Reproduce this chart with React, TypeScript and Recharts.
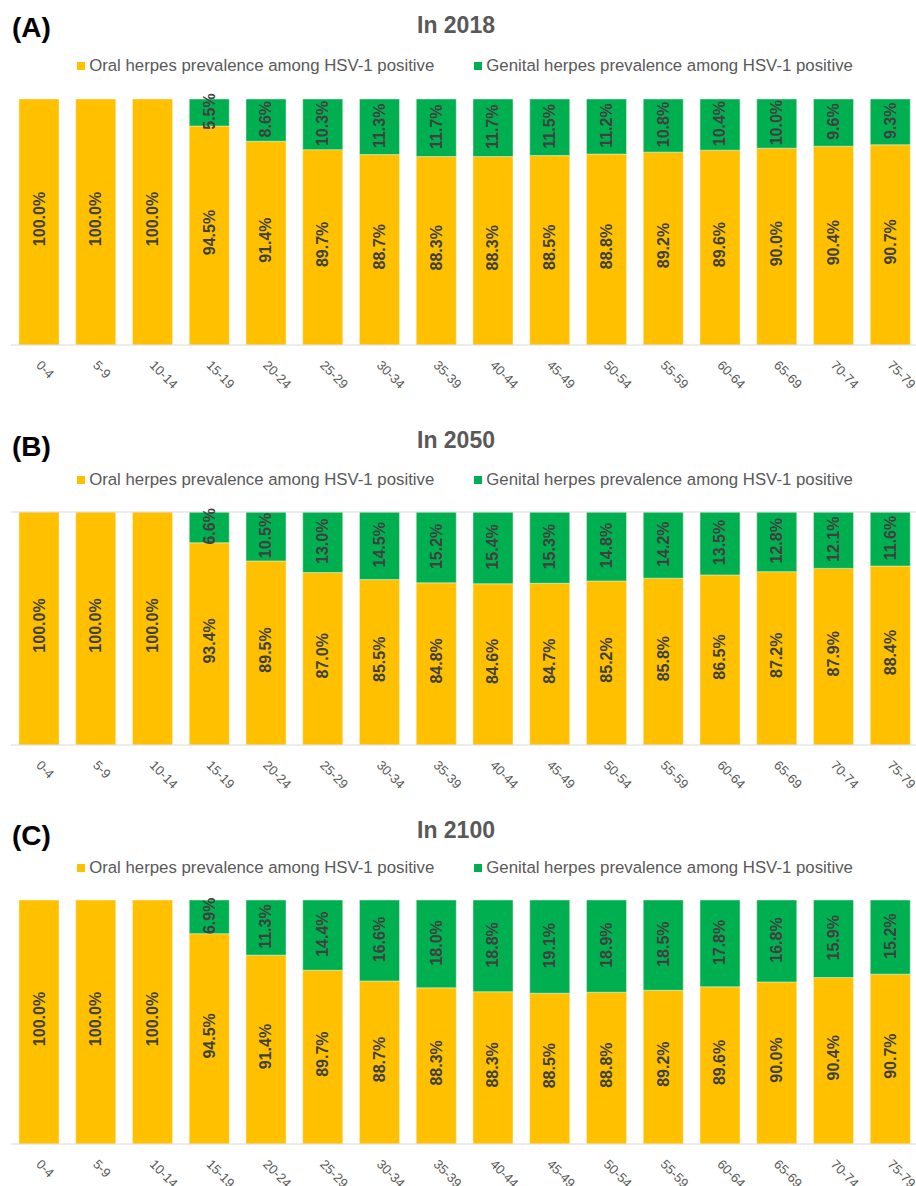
import React from "react";
import { BarChart, Bar, XAxis, YAxis, LabelList, Legend, ReferenceLine } from "recharts";

const categories = ["0-4", "5-9", "10-14", "15-19", "20-24", "25-29", "30-34", "35-39", "40-44", "45-49", "50-54", "55-59", "60-64", "65-69", "70-74", "75-79"];

const oral2018 = [100, 100, 100, 94.5, 91.4, 89.7, 88.7, 88.3, 88.3, 88.5, 88.8, 89.2, 89.6, 90.0, 90.4, 90.7];
const genital2018 = [0, 0, 0, 5.5, 8.6, 10.3, 11.3, 11.7, 11.7, 11.5, 11.2, 10.8, 10.4, 10.0, 9.6, 9.3];

const oral2050 = [100, 100, 100, 93.4, 89.5, 87.0, 85.5, 84.8, 84.6, 84.7, 85.2, 85.8, 86.5, 87.2, 87.9, 88.4];
const genital2050 = [0, 0, 0, 6.6, 10.5, 13.0, 14.5, 15.2, 15.4, 15.3, 14.8, 14.2, 13.5, 12.8, 12.1, 11.6];

const oral2100 = [100, 100, 100, 94.5, 91.4, 89.7, 88.7, 88.3, 88.3, 88.5, 88.8, 89.2, 89.6, 90.0, 90.4, 90.7];
const genital2100 = [0, 0, 0, 6.9, 11.3, 14.4, 16.6, 18.0, 18.8, 19.1, 18.9, 18.5, 17.8, 16.8, 15.9, 15.2];

const ORAL_NAME = "Oral herpes prevalence among HSV-1 positive";
const GENITAL_NAME = "Genital herpes prevalence among HSV-1 positive";
const ORANGE = "#FFC000";
const GREEN = "#00B050";
const FONT = "'Liberation Sans', Arial, Helvetica, sans-serif";

function buildRows(oral: number[], genital: number[]) {
  return categories.map((c, i) => ({
    cat: c,
    oral: 100 - genital[i],
    genital: genital[i],
    oralText: oral[i].toFixed(1) + "%",
    genitalText: genital[i] > 0 ? genital[i].toFixed(1) + "%" : "",
  }));
}

const makeLabel = (plotBottom: number, offset: number) => (props: any) => {
  const vb = props.viewBox || {};
  const x = vb.x ?? props.x;
  const y = vb.y ?? props.y;
  const w = vb.width ?? props.width;
  const h = vb.height ?? props.height;
  const value = props.value;
  if (!value || x == null) return null;
  const bottom = Math.min(y + h, plotBottom);
  const cx = x + w / 2;
  const cy = (y + bottom) / 2 + offset;
  return (
    <text
      x={cx}
      y={cy}
      transform={`rotate(-90 ${cx} ${cy})`}
      textAnchor="middle"
      dominantBaseline="central"
      fontFamily={FONT}
      fontWeight="bold"
      fontSize={16}
      fill="#404040"
    >
      {value}
    </text>
  );
};

const XTick = (props: any) => {
  const { x, y, payload } = props;
  return (
    <g transform={`translate(${x},${y})`}>
      <text
        x={-4}
        y={13}
        transform="rotate(45 -4 13)"
        textAnchor="start"
        fontFamily={FONT}
        fontSize={13}
        fill="#595959"
      >
        {payload.value}
      </text>
    </g>
  );
};

const LegendContent = () => (
  <div
    style={{
      display: "flex",
      justifyContent: "center",
      gap: 40,
      fontFamily: FONT,
      fontSize: 16.8,
      color: "#595959",
      lineHeight: "20px",
      height: 20,
      whiteSpace: "nowrap",
    }}
  >
    {[
      { n: ORAL_NAME, c: ORANGE },
      { n: GENITAL_NAME, c: GREEN },
    ].map((it) => (
      <div key={it.n} style={{ display: "flex", alignItems: "center" }}>
        <span style={{ display: "inline-block", width: 8, height: 8, background: it.c, marginRight: 4 }} />
        <span>{it.n}</span>
      </div>
    ))}
  </div>
);

type PanelProps = {
  top: number;
  height: number;
  plotTop: number;
  xAxisHeight: number;
  legendY: number;
  letter: string;
  letterY: number;
  title: string;
  titleY: number;
  oral: number[];
  genital: number[];
  topLine?: boolean;
};

function Panel(p: PanelProps) {
  const rows = buildRows(p.oral, p.genital);
  const plotBottom = p.height - p.xAxisHeight;
  return (
    <div style={{ position: "absolute", left: 0, top: p.top, width: 916, height: p.height }}>
      <div
        style={{
          position: "absolute",
          left: 12,
          top: p.letterY - 16,
          height: 32,
          lineHeight: "32px",
          fontFamily: FONT,
          fontWeight: "bold",
          fontSize: 28,
          color: "#000",
        }}
      >
        {p.letter}
      </div>
      <div
        style={{
          position: "absolute",
          left: 0,
          width: 912,
          top: p.titleY - 13,
          height: 26,
          lineHeight: "26px",
          textAlign: "center",
          fontFamily: FONT,
          fontWeight: "bold",
          fontSize: 23,
          color: "#595959",
        }}
      >
        {p.title}
      </div>
      <BarChart
        width={919}
        height={p.height}
        data={rows}
        margin={{ top: p.plotTop, right: 0, bottom: 0, left: 11 }}
        barSize={40}
        style={{ position: "absolute", left: 0, top: 0 }}
      >
        <XAxis
          dataKey="cat"
          interval={0}
          height={p.xAxisHeight}
          tickLine={false}
          axisLine={{ stroke: "#D9D9D9", strokeWidth: 1 }}
          tick={<XTick />}
        />
        <YAxis hide domain={[50, 100]} allowDataOverflow type="number" />
        <Legend
          verticalAlign="middle"
          layout="horizontal"
          content={<LegendContent />}
          wrapperStyle={{ position: "absolute", top: p.legendY - 10, left: 11, width: 908, height: 20 }}
        />
        {p.topLine ? <ReferenceLine y={100} stroke="#D9D9D9" strokeWidth={1} /> : null}
        <Bar dataKey="oral" name={ORAL_NAME} stackId="a" fill={ORANGE} stroke="#FFF2CC" strokeWidth={0.5} isAnimationActive={false}>
          <LabelList dataKey="oralText" content={makeLabel(plotBottom, -3)} />
        </Bar>
        <Bar dataKey="genital" name={GENITAL_NAME} stackId="a" fill={GREEN} stroke="#E2F0D9" strokeWidth={0.5} isAnimationActive={false}>
          <LabelList dataKey="genitalText" content={makeLabel(plotBottom, -1)} />
        </Bar>
      </BarChart>
    </div>
  );
}

export default function App() {
  return (
    <div style={{ position: "absolute", left: 0, top: 0, width: 916, height: 1186, overflow: "hidden", background: "#fff" }}>
      <Panel
        top={0}
        height={410}
        plotTop={99}
        xAxisHeight={65}
        legendY={66}
        letter="(A)"
        letterY={27.5}
        title="In 2018"
        titleY={25}
        oral={oral2018}
        genital={genital2018}
      />
      <Panel
        top={412}
        height={398}
        plotTop={100}
        xAxisHeight={65}
        legendY={68}
        letter="(B)"
        letterY={34.5}
        title="In 2050"
        titleY={27.5}
        oral={oral2050}
        genital={genital2050}
        topLine
      />
      <Panel
        top={800}
        height={386}
        plotTop={100}
        xAxisHeight={42}
        legendY={68}
        letter="(C)"
        letterY={35.5}
        title="In 2100"
        titleY={29.5}
        oral={oral2100}
        genital={genital2100}
      />
    </div>
  );
}
